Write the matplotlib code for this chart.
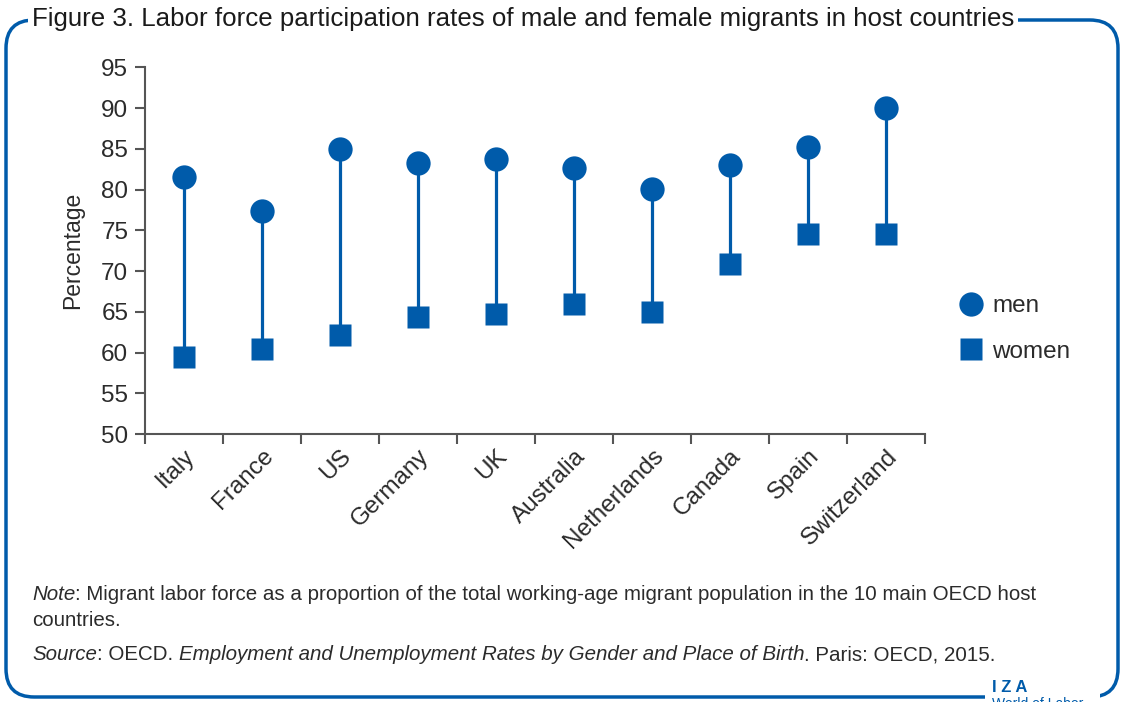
import matplotlib
matplotlib.use("Agg")
import matplotlib.pyplot as plt
from matplotlib.patches import FancyBboxPatch, Rectangle
from matplotlib.lines import Line2D
import numpy as np

countries = ["Italy", "France", "US", "Germany", "UK", "Australia",
             "Netherlands", "Canada", "Spain", "Switzerland"]
men = [81.5, 77.4, 85.0, 83.2, 83.7, 82.6, 80.1, 83.0, 85.2, 90.0]
women = [59.5, 60.4, 62.1, 64.3, 64.7, 66.0, 65.0, 70.9, 74.5, 74.5]
yticks = [50, 55, 60, 65, 70, 75, 80, 85, 90, 95]

BLUE = "#005BAA"
GREY = "#555555"
TXT = "#2b2b2b"

W, H = 1129, 702
fig = plt.figure(figsize=(W / 100, H / 100), dpi=100)
plt.rcParams['font.family'] = ['Liberation Sans', 'DejaVu Sans']

def fx(px):
    return px / W

def fy(py):
    return 1 - py / H

ax = fig.add_axes([fx(145), fy(434), fx(925) - fx(145), fy(67.3) - fy(434)])
x = np.arange(len(countries))
ax.vlines(x, women, men, color=BLUE, lw=2.3, zorder=2)
ax.plot(x, men, 'o', color=BLUE, ms=17.5, mec='none', zorder=3)
ax.plot(x, women, 's', color=BLUE, ms=16, mec='none', zorder=3)

ax.set_xlim(-0.5, len(countries) - 0.5)
ax.set_ylim(50, 95)
ax.set_yticks(yticks)
ax.set_yticklabels([str(v) for v in yticks], fontsize=17.5, color=TXT)
ax.set_xticks(x)
ax.set_xticks(np.arange(-0.5, len(countries)), minor=True)
ax.set_xticklabels(countries, rotation=45, ha='right', rotation_mode='anchor',
                   fontsize=17.5, color=TXT)
ax.tick_params(axis='x', which='major', length=0, pad=8)
ax.tick_params(axis='x', which='minor', length=7, width=1.5, color=GREY, direction='out')
ax.tick_params(axis='y', length=7, width=1.5, color=GREY, pad=5)
for s in ['top', 'right']:
    ax.spines[s].set_visible(False)
for s in ['left', 'bottom']:
    ax.spines[s].set_color(GREY)
    ax.spines[s].set_linewidth(1.5)
ax.set_ylabel("Percentage", fontsize=16.5, color=TXT, labelpad=12)

# legend
handles = [Line2D([], [], marker='o', color=BLUE, ls='none', ms=17.5, mec='none'),
           Line2D([], [], marker='s', color=BLUE, ls='none', ms=16, mec='none')]
fig.legend(handles, ["men", "women"], loc='center left',
           bbox_to_anchor=(fx(930), fy(329)), frameon=False, fontsize=17.5,
           handletextpad=0.05, labelspacing=0.95, handlelength=1.6,
           labelcolor=TXT)

# frame
frame = FancyBboxPatch((fx(6), fy(697)), fx(1118) - fx(6), fy(20) - fy(697),
                       boxstyle="round,pad=0,rounding_size=0.025",
                       transform=fig.transFigure, fill=False, ec=BLUE, lw=2.5,
                       mutation_aspect=W / H)
fig.patches.append(frame)

fig.text(fx(32), fy(19), "Figure 3. Labor force participation rates of male and female migrants in host countries",
         fontsize=18.6, color="#1a1a1a", va='center', ha='left',
         family=['Liberation Sans Narrow', 'Liberation Sans', 'DejaVu Sans'],
         bbox=dict(boxstyle='square,pad=0.15', fc='white', ec='none'))

FS = 14.8
t1 = fig.text(fx(32), fy(594), "Note", fontsize=FS, color=TXT, va='center', ha='left', style='italic')
fig.canvas.draw()
r = fig.canvas.get_renderer()
bb = t1.get_window_extent(r)
fig.text(bb.x1 / W, fy(594), ": Migrant labor force as a proportion of the total working-age migrant population in the 10 main OECD host",
         fontsize=FS, color=TXT, va='center', ha='left')
fig.text(fx(32), fy(620), "countries.", fontsize=FS, color=TXT, va='center', ha='left')

parts = [("Source", 'italic'), (": OECD. ", 'normal'),
         ("Employment and Unemployment Rates by Gender and Place of Birth", 'italic'),
         (". Paris: OECD, 2015.", 'normal')]
xpos = 32
for s, st in parts:
    t = fig.text(xpos / W, fy(655), s, fontsize=FS, color=TXT, va='center', ha='left', style=st)
    fig.canvas.draw()
    xpos = t.get_window_extent(fig.canvas.get_renderer()).x1

# IZA logo
fig.patches.append(Rectangle((fx(985), fy(702)), fx(1100) - fx(985), fy(675) - fy(702),
                             transform=fig.transFigure, fc='white', ec='none', zorder=5))
fig.text(fx(992), fy(687), "I Z A", fontsize=12, color=BLUE, weight='bold',
         va='center', ha='left', zorder=6)
fig.text(fx(992), fy(704), "World of Labor", fontsize=10, color=BLUE,
         va='center', ha='left', zorder=6)

fig.savefig("out.png", dpi=100)
